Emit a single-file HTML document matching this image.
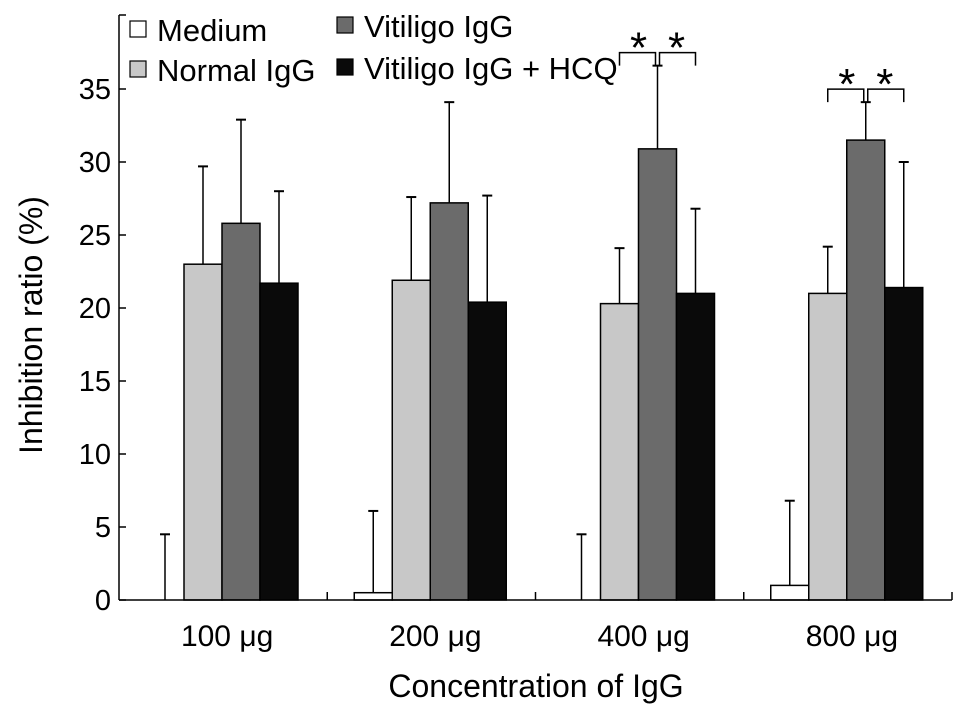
<!DOCTYPE html>
<html><head><meta charset="utf-8"><style>
body{margin:0;background:#fff}
svg text{font-family:"Liberation Sans",Arial,sans-serif;fill:#000}
</style></head><body>
<svg width="971" height="715" xmlns="http://www.w3.org/2000/svg">
<g id="plot"></g>
</svg>
<script>
const categories=["100 μg","200 μg","400 μg","800 μg"];
const seriesNames=["Medium","Normal IgG","Vitiligo IgG","Vitiligo IgG + HCQ"];
const medium=[0,0.5,0,1.0];
const mediumErr=[4.5,5.6,4.5,5.8];
const normal=[23,21.9,20.3,21];
const normalErr=[6.7,5.7,3.8,3.2];
const vitiligo=[25.8,27.2,30.9,31.5];
const vitiligoErr=[7.1,6.9,5.7,2.6];
const hcq=[21.7,20.4,21,21.4];
const hcqErr=[6.3,7.3,5.8,8.6];
const yTicks=[0,5,10,15,20,25,30,35];
const sigGroups=[2,3];
const colors=["#ffffff","#c8c8c8","#6b6b6b","#0a0a0a"];
const NS="http://www.w3.org/2000/svg";
const g=document.getElementById("plot");
const X0=119,X1=952,Y0=600,PX=14.6;
const catW=(X1-X0)/categories.length,barW=38,off=27;
function y(v){return Y0-v*PX}
function bx(c,s){return X0+c*catW+off+s*barW}
function el(t,a,txt){const e=document.createElementNS(NS,t);for(const k in a)e.setAttribute(k,a[k]);if(txt!==undefined)e.textContent=txt;g.appendChild(e);return e}
const vals=[medium,normal,vitiligo,hcq],errs=[mediumErr,normalErr,vitiligoErr,hcqErr];
for(let c=0;c<categories.length;c++){
 for(let s=0;s<4;s++){
  const v=vals[s][c],e=errs[s][c],x=bx(c,s);
  const r=el("rect",{x:x,y:y(v),width:barW,height:Math.max(0,Y0-y(v)),fill:colors[s],stroke:"#000","stroke-width":1.5});
  
  
  const cx=x+barW/2;
  el("line",{x1:cx,x2:cx,y1:y(v),y2:y(v+e),stroke:"#000","stroke-width":1.5});
  el("line",{x1:cx-5,x2:cx+5,y1:y(v+e),y2:y(v+e),stroke:"#000","stroke-width":2});
 }
 const t=el("text",{x:X0+c*catW+catW/2+4,y:646,"font-size":30,"text-anchor":"middle"},categories[c]);
 
 
 el("line",{x1:X0+(c+1)*catW,x2:X0+(c+1)*catW,y1:Y0,y2:Y0-8,stroke:"#000","stroke-width":1.5});
}
sigGroups.forEach(c=>{
 const top=Math.max(vitiligo[c]+vitiligoErr[c],0);
 const by=y(top)-13,drop=13;
 const a=bx(c,1)+barW/2,b=bx(c,2)+barW/2,d=bx(c,3)+barW/2;
 el("path",{d:`M${a} ${by+drop}V${by}H${b-2}V${by+drop}`,fill:"none",stroke:"#000","stroke-width":1.5});
 el("path",{d:`M${b+2} ${by+drop}V${by}H${d}V${by+drop}`,fill:"none",stroke:"#000","stroke-width":1.5});
 el("text",{x:(a+b)/2,y:by+10,"font-size":44,"text-anchor":"middle"},"*");
 el("text",{x:(b+d)/2,y:by+10,"font-size":44,"text-anchor":"middle"},"*");
});
el("line",{x1:X0,x2:X0,y1:Y0,y2:15,stroke:"#000","stroke-width":1.5});
el("line",{x1:X0,x2:X1,y1:Y0,y2:Y0,stroke:"#000","stroke-width":1.5});
yTicks.forEach(v=>{
 el("line",{x1:X0,x2:X0+7,y1:y(v),y2:y(v),stroke:"#000","stroke-width":1.5});
 const t=el("text",{x:X0-8,y:y(v)+10,"font-size":29,"text-anchor":"end"},v);
 
 
});
el("line",{x1:X0,x2:X0+7,y1:15,y2:15,stroke:"#000","stroke-width":1.5});
const yt=el("text",{x:0,y:0,"font-size":32,"text-anchor":"middle",transform:"translate(42,325) rotate(-90)"},"Inhibition ratio (%)");


const xt=el("text",{x:536,y:697,"font-size":32,"text-anchor":"middle"},"Concentration of IgG");


const lp=[[130,21],[130,61],[337,17],[337,59]];
for(let s=0;s<4;s++){
 const [lx,ly]=lp[s];
 el("rect",{x:lx,y:ly,width:16,height:16,fill:colors[s],stroke:"#000","stroke-width":1.2});
 const t=el("text",{x:lx+27,y:ly+20,"font-size":31},seriesNames[s]);
 
 
}
</script>
</body></html>
